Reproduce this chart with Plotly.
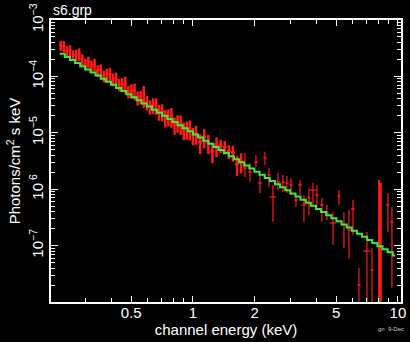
import plotly.graph_objects as go

# ---- data: low/mid energy channels (symmetric errors) ----
e_low = [0.2265, 0.2344, 0.2427, 0.2512, 0.2600, 0.2692, 0.2786, 0.2884, 0.2985, 0.3090,
         0.3199, 0.3311, 0.3428, 0.3548, 0.3673, 0.3802, 0.3936, 0.4074, 0.4217, 0.4365,
         0.4519, 0.4677, 0.4842, 0.5012, 0.5188, 0.5370, 0.5559, 0.5754, 0.5957, 0.6166,
         0.6383, 0.6607, 0.6839, 0.7079, 0.7328, 0.7586, 0.7852, 0.8128, 0.8414, 0.8710,
         0.9016, 0.9333, 0.9661, 1.000,
         1.035, 1.084, 1.135, 1.189, 1.245, 1.303, 1.365, 1.429, 1.496, 1.567, 1.641, 1.718]
e_low_err = [0.0039, 0.0040, 0.0041, 0.0043, 0.0044, 0.0046, 0.0047, 0.0049, 0.0051, 0.0053,
             0.0054, 0.0056, 0.0058, 0.0060, 0.0062, 0.0065, 0.0067, 0.0069, 0.0072, 0.0074,
             0.0077, 0.0080, 0.0082, 0.0085, 0.0088, 0.0091, 0.0095, 0.0098, 0.0101, 0.0105,
             0.0109, 0.0112, 0.0116, 0.0120, 0.0125, 0.0129, 0.0133, 0.0138, 0.0143, 0.0148,
             0.0153, 0.0159, 0.0164, 0.0170,
             0.024, 0.025, 0.026, 0.027, 0.029, 0.030, 0.031, 0.033, 0.034, 0.036, 0.038, 0.040]
f_low = [3.56e-4, 3.46e-4, 2.87e-4, 2.92e-4, 2.38e-4, 2.41e-4, 2.50e-4, 2.02e-4, 1.68e-4, 1.83e-4,
         1.55e-4, 1.64e-4, 1.28e-4, 1.30e-4, 1.03e-4, 1.09e-4, 1.11e-4, 8.97e-5, 9.11e-5, 7.19e-5,
         7.30e-5, 7.41e-5, 5.46e-5, 5.67e-5, 5.63e-5, 4.22e-5, 4.38e-5, 4.75e-5, 3.50e-5, 2.95e-5,
         3.11e-5, 3.09e-5, 2.39e-5, 2.40e-5, 1.89e-5, 1.96e-5, 1.99e-5, 1.40e-5, 1.52e-5, 1.47e-5,
         1.13e-5, 1.17e-5, 1.19e-5, 9.12e-6,
         9.70e-6, 6.81e-6, 8.49e-6, 6.68e-6, 4.69e-6, 5.98e-6, 5.93e-6, 5.61e-6, 4.73e-6, 4.48e-6,
         2.80e-6, 3.11e-6]
f_low_err = [7.2e-5, 7.7e-5, 5.7e-5, 6.6e-5, 5.1e-5, 5.6e-5, 6.3e-5, 4.6e-5, 3.9e-5, 4.2e-5,
             3.6e-5, 4.1e-5, 3.0e-5, 3.3e-5, 2.4e-5, 2.8e-5, 3.1e-5, 2.3e-5, 2.6e-5, 1.8e-5,
             2.0e-5, 2.5e-5, 1.4e-5, 1.6e-5, 1.8e-5, 1.2e-5, 1.2e-5, 2.0e-5, 1.0e-5, 8.5e-6,
             9.8e-6, 1.0e-5, 7.5e-6, 8.0e-6, 6.4e-6, 6.6e-6, 7.6e-6, 4.8e-6, 5.2e-6, 5.6e-6,
             3.9e-6, 4.2e-6, 4.6e-6, 3.1e-6,
             3.6e-6, 2.6e-6, 3.2e-6, 2.5e-6, 1.8e-6, 2.3e-6, 1.6e-6, 1.5e-6, 1.3e-6, 1.4e-6,
             1.1e-6, 1.2e-6]

# ---- data: high energy channels (asymmetric errors) ----
e_high = [1.794, 1.897, 2.029, 2.122, 2.245, 2.349, 2.456, 2.598, 2.748, 2.874,
          3.006, 3.180, 3.327, 3.479, 3.680, 3.849, 4.026, 4.258, 4.505, 4.819,
          5.155, 5.453, 5.768, 6.033, 6.452, 7.063, 7.469, 8.09, 8.17, 8.25,
          8.937, 9.348]
e_high_err = [0.04, 0.045, 0.05, 0.05, 0.05, 0.05, 0.09, 0.06, 0.06, 0.06,
              0.07, 0.07, 0.07, 0.10, 0.08, 0.12, 0.09, 0.09, 0.10, 0.19,
              0.10, 0.12, 0.12, 0.13, 0.14, 0.30, 0.15, 0.02, 0.02, 0.02,
              0.18, 0.20]
f_high = [2.38e-6, 2.02e-6, 3.03e-6, 1.29e-6, 3.57e-6, 1.79e-6, 7.28e-7, 1.34e-6, 1.34e-6, 1.29e-6,
          1.19e-6, 6.44e-7, 1.19e-6, 5.25e-7, 6.98e-7, 9.68e-7, 7.89e-7, 5.25e-7, 3.78e-7, 2.52e-7,
          7.57e-7, 2.32e-7, 1.89e-7, 4.46e-7, 2.00e-8, 8.02e-8, 3.69e-8, 2.10e-7, 1.20e-7, 3.00e-7,
          5.25e-7, 2.62e-7]
f_high_up = [2.01e-6, 9.0e-7, 1.01e-6, 5.0e-7, 1.0e-6, 5.9e-7, 4.6e-7, 6.0e-7, 4.5e-7, 4.2e-7,
             3.9e-7, 2.1e-7, 2.7e-7, 2.6e-7, 3.5e-7, 3.2e-7, 4.0e-7, 1.7e-7, 1.5e-7, 1.4e-7,
             2.1e-7, 1.6e-7, 2.4e-7, 2.0e-7, 2.0e-8, 9.4e-8, 5.4e-8, 1.25e-6, 9.8e-7, 1.0e-6,
             3.3e-7, 2.2e-7]
f_high_dn = [7.4e-7, 6.8e-7, 5.5e-7, 4.3e-7, 8.8e-7, 7.0e-7, 4.66e-7, 3.7e-7, 4.5e-7, 4.3e-7,
             4.0e-7, 1.6e-7, 4.0e-7, 2.6e-7, 3.5e-7, 4.4e-7, 3.1e-7, 2.6e-7, 9.3e-8, 1.5e-7,
             2.3e-7, 1.4e-7, 1.3e-7, 2.9e-7, 1.99e-8, 7.99e-8, 3.68e-8, 2.099e-7, 1.199e-7, 2.999e-7,
             3.5e-7, 2.44e-7]

# ---- model (folded power law, histogram steps) ----
e_model = [0.2239, 0.2371, 0.2512, 0.2661, 0.2818, 0.2985, 0.3162, 0.3350, 0.3548, 0.3758,
           0.3981, 0.4217, 0.4467, 0.4732, 0.5012, 0.5309, 0.5623, 0.5957, 0.6310, 0.6683,
           0.7079, 0.7499, 0.7943, 0.8414, 0.8913, 0.9441, 1.000, 1.059, 1.122, 1.189,
           1.259, 1.334, 1.413, 1.496, 1.585, 1.679, 1.778, 1.884, 1.995, 2.113,
           2.239, 2.371, 2.512, 2.661, 2.818, 2.985, 3.162, 3.350, 3.548, 3.758,
           3.981, 4.217, 4.467, 4.732, 5.012, 5.309, 5.623, 5.957, 6.310, 6.683,
           7.079, 7.499, 7.943, 8.414, 8.913, 9.441, 9.70]
f_model = [2.51e-4, 2.21e-4, 1.95e-4, 1.72e-4, 1.51e-4, 1.33e-4, 1.17e-4, 1.04e-4, 9.12e-5, 8.04e-5,
           7.08e-5, 6.24e-5, 5.50e-5, 4.84e-5, 4.27e-5, 3.76e-5, 3.31e-5, 2.92e-5, 2.57e-5, 2.26e-5,
           2.00e-5, 1.76e-5, 1.55e-5, 1.36e-5, 1.20e-5, 1.06e-5, 9.33e-6, 8.22e-6, 7.24e-6, 6.38e-6,
           5.62e-6, 4.95e-6, 4.37e-6, 3.85e-6, 3.39e-6, 2.99e-6, 2.63e-6, 2.32e-6, 2.04e-6, 1.80e-6,
           1.58e-6, 1.40e-6, 1.23e-6, 1.08e-6, 9.55e-7, 8.41e-7, 7.41e-7, 6.53e-7, 5.75e-7, 5.07e-7,
           4.47e-7, 3.94e-7, 3.47e-7, 3.05e-7, 2.69e-7, 2.37e-7, 2.09e-7, 1.84e-7, 1.62e-7, 1.43e-7,
           1.26e-7, 1.11e-7, 9.77e-8, 8.61e-8, 7.59e-8, 6.68e-8, 6.68e-8]

# ---- tick labels ----
x_tick_vals = [0.5, 1, 2, 5, 10]
x_tick_text = ["0.5", "1", "2", "5", "10"]
x_minor_vals = [0.3, 0.4, 0.6, 0.7, 0.8, 0.9, 3, 4, 6, 7, 8, 9]
y_tick_vals = [1e-3, 1e-4, 1e-5, 1e-6, 1e-7]
y_tick_text = ["10<sup>−3</sup>", "10<sup>−4</sup>", "10<sup>−5</sup>", "10<sup> 6</sup>",
               "10<sup>−7</sup>"]
y_minor_vals = [m * 10.0 ** p for p in range(-8, -3) for m in range(2, 10)]

RED = "#ff1a1a"
GREEN = "#45e636"
FONT = "Liberation Sans, Arial, sans-serif"

fig = go.Figure()
fig.add_trace(go.Scatter(
    x=e_low, y=f_low, mode="markers", marker=dict(size=1, color=RED),
    error_x=dict(type="data", array=e_low_err, color=RED, thickness=2, width=0),
    error_y=dict(type="data", array=f_low_err, color=RED, thickness=2.5, width=0),
    showlegend=False, hoverinfo="skip"))
fig.add_trace(go.Scatter(
    x=e_high[:27] + e_high[30:], y=f_high[:27] + f_high[30:], mode="markers",
    marker=dict(size=1, color=RED),
    error_x=dict(type="data", array=e_high_err[:27] + e_high_err[30:], color=RED,
                 thickness=1.2, width=0),
    error_y=dict(type="data", array=f_high_up[:27] + f_high_up[30:],
                 arrayminus=f_high_dn[:27] + f_high_dn[30:], symmetric=False,
                 color=RED, thickness=1.2, width=0),
    showlegend=False, hoverinfo="skip"))
# the overlapping channels near 8 keV form a thick bar
fig.add_trace(go.Scatter(
    x=e_high[27:30], y=f_high[27:30], mode="markers", marker=dict(size=1, color=RED),
    error_x=dict(type="data", array=e_high_err[27:30], color=RED, thickness=1.5, width=0),
    error_y=dict(type="data", array=f_high_up[27:30], arrayminus=f_high_dn[27:30],
                 symmetric=False, color=RED, thickness=2, width=0),
    showlegend=False, hoverinfo="skip"))
fig.add_trace(go.Scatter(
    x=e_model, y=f_model, mode="lines", line=dict(color=GREEN, width=2, shape="hv"),
    showlegend=False, hoverinfo="skip"))

axis_common = dict(
    showgrid=False, zeroline=False, showline=True, linecolor="white", linewidth=2,
    mirror="allticks", ticks="inside", tickcolor="white", tickwidth=1, automargin=False,
    tickfont=dict(family=FONT, size=15, color="white"),
)
fig.update_xaxes(
    type="log", range=[-0.6925, 1.015], tickmode="array",
    tickvals=x_tick_vals, ticktext=x_tick_text, ticklen=6, ticklabelstandoff=-4,
    minor=dict(tickmode="array", tickvals=x_minor_vals, ticks="inside", ticklen=4,
               tickcolor="white", tickwidth=1),
    title=dict(text="channel energy (keV)", font=dict(family=FONT, size=15, color="white"),
               standoff=0),
    **axis_common)
fig.update_yaxes(
    type="log", range=[-8, -3], tickmode="array",
    tickvals=y_tick_vals, ticktext=y_tick_text, ticklen=7, tickangle=-90,
    minor=dict(tickmode="array", tickvals=y_minor_vals, ticks="inside", ticklen=4,
               tickcolor="white", tickwidth=1),
    title=dict(text="Photons/cm<sup>2</sup> s keV", font=dict(family=FONT, size=15, color="white"),
               standoff=2),
    **axis_common)

fig.update_layout(
    width=410, height=342, paper_bgcolor="black", plot_bgcolor="black",
    margin=dict(l=51, r=9, t=20, b=40),
    font=dict(family=FONT, color="white"),
    annotations=[
        dict(text="s6.grp", xref="x domain", yref="paper", x=0.0, y=1.0, xanchor="left",
             yanchor="bottom", yshift=0, showarrow=False,
             font=dict(family=FONT, size=14, color="white")),
        dict(text="gn  9-Dec", xref="paper", yref="paper", x=1.0, y=0, xanchor="right",
             yanchor="top", xshift=5, yshift=-22, showarrow=False,
             font=dict(family=FONT, size=6, color="#cccccc")),
    ],
)

fig.write_html(
    "out.html",
    config={"displayModeBar": False},
    post_script="document.body.style.margin='0';document.body.style.background='black';",
)
